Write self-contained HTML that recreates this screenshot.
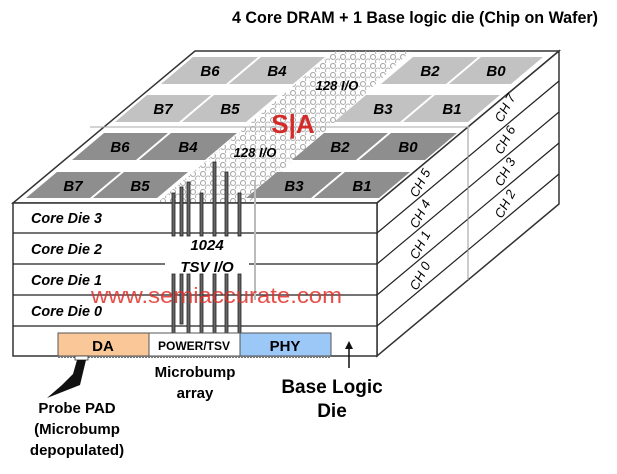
<!DOCTYPE html>
<html><head><meta charset="utf-8"><style>
html,body{margin:0;padding:0;background:#fff}
svg{display:block}
text{font-family:"Liberation Sans",sans-serif}
.b{font-weight:bold;font-style:italic;font-size:15px;text-anchor:middle}
.cd{font-weight:bold;font-style:italic;font-size:15px}
.ch{font-style:italic;font-size:13px;text-anchor:middle}
.lb{font-weight:bold;font-size:15px;text-anchor:middle}
</style></head><body>
<svg width="617" height="474" viewBox="0 0 617 474" xmlns="http://www.w3.org/2000/svg">
<defs>
<pattern id="dots" width="10" height="9" patternUnits="userSpaceOnUse">
<circle cx="3" cy="3" r="2.5" fill="none" stroke="#aaa" stroke-width="1.1"/>
<circle cx="8" cy="7.5" r="2.5" fill="none" stroke="#b4b4b4" stroke-width="1.1"/>
</pattern>
</defs>
<text x="232" y="23" font-size="17" font-weight="bold" textLength="366" lengthAdjust="spacingAndGlyphs">4 Core DRAM + 1 Base logic die (Chip on Wafer)</text>

<polygon points="13,203 377,203 559,51 195,51" fill="#fff" stroke="#333" stroke-width="1.5"/>
<polygon points="377,203 559,51 559,204 377,356" fill="#fff" stroke="#333" stroke-width="1.5"/>
<g stroke="#222" stroke-width="1.2">
<line x1="377" y1="233" x2="559" y2="81"/>
<line x1="377" y1="264" x2="559" y2="112"/>
<line x1="377" y1="295" x2="559" y2="143"/>
<line x1="377" y1="326" x2="559" y2="174"/>
</g>
<line x1="468" y1="126" x2="468" y2="280" stroke="#999" stroke-width="1"/>
<line x1="90" y1="127" x2="470" y2="127" stroke="#aaa" stroke-width="1"/>
<polygon points="157,203 248,203 411,51 334,51" fill="url(#dots)"/>
<polygon points="205,270 260,262 300,230 300,300 250,330 205,330" fill="url(#dots)" opacity="0.7"/>
<g fill="#8e8e8e">
<polygon points="26,198 90,198 121,172 57,172"/><polygon points="93,198 157,198 188,172 124,172"/>
<polygon points="246,198 311,198 342,172 277,172"/><polygon points="314,198 379,198 410,172 345,172"/>
<polygon points="72,160 136,160 168,133 104,133"/><polygon points="139,160 205,160 237,133 171,133"/>
<polygon points="292,160 356,160 388,133 324,133"/><polygon points="359,160 425,160 457,133 391,133"/>
</g>
<g fill="#c2c2c2">
<polygon points="115,122 179,122 211,95 147,95"/><polygon points="182,122 246,122 278,95 214,95"/>
<polygon points="334,122 400,122 432,95 366,95"/><polygon points="403,122 468,122 500,95 435,95"/>
<polygon points="161,84 226,84 258,57 193,57"/><polygon points="229,84 293,84 325,57 261,57"/>
<polygon points="381,84 446,84 478,57 413,57"/><polygon points="449,84 511,84 543,57 481,57"/>
</g>
<text x="73" y="191" class="b">B7</text><text x="140" y="191" class="b">B5</text>
<text x="294" y="191" class="b">B3</text><text x="362" y="191" class="b">B1</text>
<text x="120" y="152" class="b">B6</text><text x="188" y="152" class="b">B4</text>
<text x="340" y="152" class="b">B2</text><text x="408" y="152" class="b">B0</text>
<text x="163" y="114" class="b">B7</text><text x="230" y="114" class="b">B5</text>
<text x="383" y="114" class="b">B3</text><text x="452" y="114" class="b">B1</text>
<text x="210" y="76" class="b">B6</text><text x="277" y="76" class="b">B4</text>
<text x="430" y="76" class="b">B2</text><text x="496" y="76" class="b">B0</text>
<text x="337" y="90" font-size="13" font-weight="bold" font-style="italic" text-anchor="middle">128 I/O</text>
<text x="255" y="157" font-size="13" font-weight="bold" font-style="italic" text-anchor="middle">128 I/O</text>
<text x="293" y="133" font-size="26" font-weight="bold" fill="#d42a2a" text-anchor="middle">S|A</text>

<rect x="13" y="203" width="364" height="153" fill="#fff" stroke="#333" stroke-width="1.5"/>
<g stroke="#222" stroke-width="1.2">
<line x1="13" y1="233" x2="377" y2="233"/>
<line x1="13" y1="264" x2="165" y2="264"/><line x1="249" y1="264" x2="377" y2="264"/>
<line x1="13" y1="295" x2="377" y2="295"/>
<line x1="13" y1="326" x2="377" y2="326"/>
</g>
<line x1="255" y1="180" x2="255" y2="300" stroke="#bbb" stroke-width="2"/>
<g fill="#666" stroke="#222" stroke-width="0.8">
<rect x="172" y="193" width="3" height="43"/><rect x="180" y="187" width="3" height="49"/>
<rect x="187" y="182" width="3" height="54"/><rect x="200" y="193" width="3" height="43"/>
<rect x="213" y="162" width="3" height="74"/><rect x="225" y="172" width="3" height="64"/>
<rect x="238" y="193" width="3" height="43"/>
<rect x="172" y="274" width="3" height="59"/><rect x="180" y="274" width="3" height="50"/>
<rect x="187" y="274" width="3" height="59"/><rect x="200" y="274" width="3" height="59"/>
<rect x="213" y="274" width="3" height="59"/><rect x="225" y="274" width="3" height="59"/>
<rect x="238" y="274" width="3" height="59"/>
</g>
<text x="207" y="250" font-size="15" font-weight="bold" font-style="italic" text-anchor="middle">1024</text>
<text x="207" y="272" font-size="15" font-weight="bold" font-style="italic" text-anchor="middle">TSV I/O</text>
<text x="31" y="223" class="cd" textLength="71" lengthAdjust="spacingAndGlyphs">Core Die 3</text>
<text x="31" y="254" class="cd" textLength="71" lengthAdjust="spacingAndGlyphs">Core Die 2</text>
<text x="31" y="285" class="cd" textLength="71" lengthAdjust="spacingAndGlyphs">Core Die 1</text>
<text x="31" y="316" class="cd" textLength="71" lengthAdjust="spacingAndGlyphs">Core Die 0</text>
<text x="91" y="303" font-size="22" fill="#e0302a" fill-opacity="0.85" textLength="251" lengthAdjust="spacingAndGlyphs">www.semiaccurate.com</text>

<text transform="translate(509,110) rotate(-62)" class="ch">CH 7</text>
<text transform="translate(509,142) rotate(-62)" class="ch">CH 6</text>
<text transform="translate(509,174) rotate(-62)" class="ch">CH 3</text>
<text transform="translate(509,206) rotate(-62)" class="ch">CH 2</text>
<text transform="translate(424,185) rotate(-62)" class="ch">CH 5</text>
<text transform="translate(424,216) rotate(-62)" class="ch">CH 4</text>
<text transform="translate(424,247) rotate(-62)" class="ch">CH 1</text>
<text transform="translate(424,278) rotate(-62)" class="ch">CH 0</text>

<rect x="58" y="333" width="91" height="23" fill="#fac898" stroke="#555" stroke-width="1"/>
<rect x="149" y="333" width="91" height="23" fill="#fff" stroke="#555" stroke-width="1"/>
<rect x="240" y="333" width="91" height="23" fill="#9cc8f8" stroke="#555" stroke-width="1"/>
<line x1="58" y1="357" x2="331" y2="357" stroke="#777" stroke-width="2" stroke-dasharray="2,1"/>
<text x="103" y="351" font-size="15" font-weight="bold" text-anchor="middle">DA</text>
<text x="194" y="350" font-size="12" font-weight="bold" text-anchor="middle">POWER/TSV</text>
<text x="285" y="351" font-size="15" font-weight="bold" text-anchor="middle">PHY</text>
<rect x="75" y="356" width="13" height="4" fill="#fff" stroke="#333" stroke-width="0.8"/>
<polygon points="77,360 86,360 80,385 47,398 62,385 73,374" fill="#111"/>
<line x1="349" y1="368" x2="349" y2="346" stroke="#111" stroke-width="1.5"/>
<polygon points="349,341 345,349 353,349" fill="#111"/>

<text x="195" y="377" class="lb">Microbump</text>
<text x="195" y="398" class="lb">array</text>
<text x="77" y="413" class="lb">Probe PAD</text>
<text x="77" y="434" class="lb">(Microbump</text>
<text x="77" y="455" class="lb">depopulated)</text>
<text x="332" y="393" font-size="19" font-weight="bold" text-anchor="middle">Base Logic</text>
<text x="332" y="417" font-size="19" font-weight="bold" text-anchor="middle">Die</text>
</svg>
</body></html>
